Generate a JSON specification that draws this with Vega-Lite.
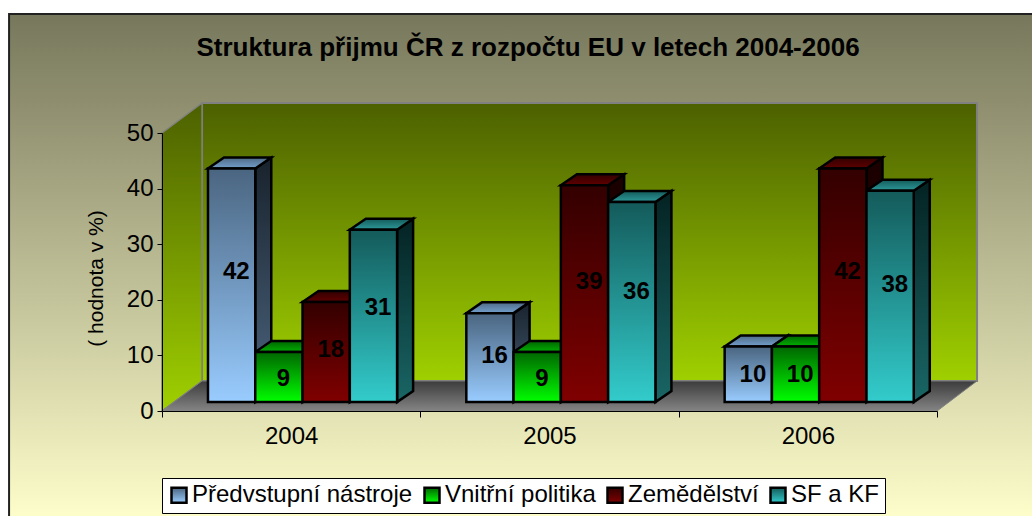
{
"$schema":"https://vega.github.io/schema/vega-lite/v6.json",
"width":1032,"height":516,"padding":0,"autosize":{"type":"none"},
"background":"white",
"title":{"text":"Struktura přijmu ČR z rozpočtu EU v letech 2004-2006","font":"Liberation Sans","fontSize":26,"fontWeight":"bold","color":"#000","anchor":"middle","dx":12,"offset":-82,"baseline":"alphabetic"},
"config":{"font":"Liberation Sans","view":{"stroke":null}},
"data":{"values":[
{"year":2004,"series":"Předvstupní nástroje","value":42},
{"year":2004,"series":"Vnitřní politika","value":9},
{"year":2004,"series":"Zemědělství","value":18},
{"year":2004,"series":"SF a KF","value":31},
{"year":2005,"series":"Předvstupní nástroje","value":16},
{"year":2005,"series":"Vnitřní politika","value":9},
{"year":2005,"series":"Zemědělství","value":39},
{"year":2005,"series":"SF a KF","value":36},
{"year":2006,"series":"Předvstupní nástroje","value":10},
{"year":2006,"series":"Vnitřní politika","value":10},
{"year":2006,"series":"Zemědělství","value":42},
{"year":2006,"series":"SF a KF","value":38}
]},
"transform":[
{"calculate":"datum.year-2004","as":"yi"},
{"calculate":"indexof(['Předvstupní nástroje','Vnitřní politika','Zemědělství','SF a KF'],datum.series)","as":"si"},
{"calculate":"datum.yi+0.178+datum.si*0.183","as":"xl"},
{"calculate":"datum.xl+0.183","as":"xr"},
{"calculate":"datum.value+1.6","as":"top"},
{"calculate":"1.6","as":"base"},
{"calculate":"datum.xl+0.0915+0.018","as":"xm"},
{"calculate":"0.58*datum.value+0.6","as":"ym"},
{"calculate":"datum.year+'-'+datum.series","as":"key"}
],
"resolve":{"scale":{"x":"independent"},"axis":{"x":"independent","y":"independent"}},
"layer":[
{
"resolve":{"scale":{"fill":"independent"},"axis":{"y":"independent"}},
"layer":[
{"data":{"values":[{}]},
 "mark":{"type":"rect","stroke":"#222","strokeWidth":2,"fill":{"gradient":"linear","x1":0,"y1":0,"x2":0,"y2":1,"stops":[{"offset":0,"color":"#77775c"},{"offset":1,"color":"#ffffcc"}]}},
 "encoding":{
  "x":{"datum":-0.592,"type":"quantitative","scale":{"domain":[0,3],"range":[162,937],"nice":false,"zero":false},"axis":null},
  "x2":{"datum":3.6},
  "y":{"datum":71.4,"type":"quantitative","scale":{"domain":[0,50],"range":[411,133],"nice":false,"zero":false},"axis":{"orient":"left","values":[0,10,20,30,40,50],"offset":-162,"zindex":1,"grid":false,"domainColor":"#000","tickColor":"#000","tickSize":5,"labelFontSize":24,"labelColor":"#000","labelPadding":4,"title":"( hodnota v %)","titleFontSize":21,"titleFontWeight":"normal","titleColor":"#000","titleX":-56,"titleY":278}},
  "y2":{"datum":-20}
 }},
{"data":{"values":[{}]},
 "mark":{"type":"rect","stroke":"#808080","strokeWidth":2,"fill":{"gradient":"linear","x1":0,"y1":0,"x2":0,"y2":1,"stops":[{"offset":0,"color":"#4c6000"},{"offset":1,"color":"#9fd000"}]}},
 "encoding":{"x":{"datum":0.155,"type":"quantitative","axis":null},"x2":{"datum":3.155},"y":{"datum":55.4,"type":"quantitative","axis":null},"y2":{"datum":5.4}}},
{"data":{"values":[{"depth":0},{"depth":1}]},
 "transform":[{"calculate":"datum.depth*0.155","as":"wx"},{"calculate":"datum.depth*5.4","as":"wy0"},{"calculate":"50+datum.depth*5.4","as":"wy1"}],
 "mark":{"type":"area","orient":"vertical","stroke":"#808080","strokeWidth":1.5,"fill":{"gradient":"linear","x1":0,"y1":0,"x2":0,"y2":1,"stops":[{"offset":0,"color":"#4c6000"},{"offset":1,"color":"#9fd000"}]}},
 "encoding":{"x":{"field":"wx","type":"quantitative","axis":null},"y":{"field":"wy1","type":"quantitative","axis":null,"stack":null},"y2":{"field":"wy0"}}},
{"data":{"values":[{"depth":0},{"depth":1}]},
 "transform":[{"calculate":"datum.depth*0.155","as":"fx0"},{"calculate":"3+datum.depth*0.155","as":"fx1"},{"calculate":"datum.depth*5.4","as":"fy"}],
 "mark":{"type":"area","orient":"horizontal","stroke":"#808080","strokeWidth":1,"fill":{"gradient":"linear","x1":0,"y1":0,"x2":0,"y2":1,"stops":[{"offset":0,"color":"#3c3c3c"},{"offset":1,"color":"#848484"}]}},
 "encoding":{"y":{"field":"fy","type":"quantitative","axis":null},"x":{"field":"fx0","type":"quantitative","axis":null,"stack":null},"x2":{"field":"fx1"}}},
{"transform":[{"calculate":"[0,1]","as":"d"},{"flatten":["d"]},{"calculate":"datum.xr+datum.d*0.062","as":"sx"},{"calculate":"datum.top+datum.d*1.98","as":"sy"},{"calculate":"datum.base+datum.d*1.98","as":"sy2"}],
 "mark":{"type":"area","orient":"vertical","stroke":"#000","strokeWidth":2.5,"strokeJoin":"miter"},
 "encoding":{"x":{"field":"sx","type":"quantitative","axis":null},"y":{"field":"sy","type":"quantitative","axis":null,"stack":null},"y2":{"field":"sy2"},"detail":{"field":"key"},
  "fill":{"field":"series","type":"nominal","legend":null,"scale":{"domain":["Předvstupní nástroje","Vnitřní politika","Zemědělství","SF a KF"],"range":[
   {"expr":"{gradient:'linear',x1:0,y1:0,x2:0,y2:1,stops:[{offset:0,color:'#18222c'},{offset:1,color:'#4d6680'}]}"},
   {"expr":"{gradient:'linear',x1:0,y1:0,x2:0,y2:1,stops:[{offset:0,color:'#003300'},{offset:1,color:'#008000'}]}"},
   {"expr":"{gradient:'linear',x1:0,y1:0,x2:0,y2:1,stops:[{offset:0,color:'#190000'},{offset:1,color:'#400000'}]}"},
   {"expr":"{gradient:'linear',x1:0,y1:0,x2:0,y2:1,stops:[{offset:0,color:'#042222'},{offset:1,color:'#1a6666'}]}"}]}}}},
{"transform":[{"calculate":"[0,1]","as":"d"},{"flatten":["d"]},{"calculate":"datum.xl+datum.d*0.062","as":"tx"},{"calculate":"datum.xr+datum.d*0.062","as":"tx2"},{"calculate":"datum.top+datum.d*1.98","as":"ty"}],
 "mark":{"type":"area","orient":"horizontal","stroke":"#000","strokeWidth":2.5,"strokeJoin":"miter"},
 "encoding":{"y":{"field":"ty","type":"quantitative","axis":null},"x":{"field":"tx","type":"quantitative","axis":null,"stack":null},"x2":{"field":"tx2"},"detail":{"field":"key"},
  "fill":{"field":"series","type":"nominal","legend":null,"scale":{"domain":["Předvstupní nástroje","Vnitřní politika","Zemědělství","SF a KF"],"range":[
   {"expr":"{gradient:'linear',x1:0,y1:0,x2:0,y2:1,stops:[{offset:0,color:'#4f6a86'},{offset:1,color:'#73a0cc'}]}"},
   {"expr":"{gradient:'linear',x1:0,y1:0,x2:0,y2:1,stops:[{offset:0,color:'#006600'},{offset:1,color:'#00b000'}]}"},
   {"expr":"{gradient:'linear',x1:0,y1:0,x2:0,y2:1,stops:[{offset:0,color:'#330000'},{offset:1,color:'#600000'}]}"},
   {"expr":"{gradient:'linear',x1:0,y1:0,x2:0,y2:1,stops:[{offset:0,color:'#145a5a'},{offset:1,color:'#2d9a9a'}]}"}]}}}},
{"mark":{"type":"rect","stroke":"#000","strokeWidth":2.5},
 "encoding":{"x":{"field":"xl","type":"quantitative","axis":null},"x2":{"field":"xr"},"y":{"field":"top","type":"quantitative","axis":null},"y2":{"field":"base"},
  "fill":{"field":"series","type":"nominal","scale":{"domain":["Předvstupní nástroje","Vnitřní politika","Zemědělství","SF a KF"],"range":[
   {"expr":"{gradient:'linear',x1:0,y1:0,x2:0,y2:1,stops:[{offset:0,color:'#4a6580'},{offset:1,color:'#99ccff'}]}"},
   {"expr":"{gradient:'linear',x1:0,y1:0,x2:0,y2:1,stops:[{offset:0,color:'#006600'},{offset:1,color:'#00ff00'}]}"},
   {"expr":"{gradient:'linear',x1:0,y1:0,x2:0,y2:1,stops:[{offset:0,color:'#330000'},{offset:1,color:'#800000'}]}"},
   {"expr":"{gradient:'linear',x1:0,y1:0,x2:0,y2:1,stops:[{offset:0,color:'#145a5a'},{offset:1,color:'#33cccc'}]}"}]},
   "legend":{"title":null,"orient":"none","legendX":162,"legendY":478,"direction":"horizontal","columns":4,"symbolType":"square","symbolSize":225,"symbolStrokeWidth":2.5,"symbolStrokeColor":"#000","labelFontSize":24,"labelColor":"#000","labelOffset":1,"columnPadding":6,"padding":5,"fillColor":"#fff","strokeColor":"#000","labelLimit":300,"zindex":2}}}},
{"mark":{"type":"text","font":"Liberation Sans","fontWeight":"bold","fontSize":24,"color":"#000","baseline":"middle","align":"center"},
 "encoding":{"x":{"field":"xm","type":"quantitative","axis":null},"y":{"field":"ym","type":"quantitative","axis":null},"text":{"field":"value","type":"quantitative"}}}
]
},
{"mark":{"type":"tick","opacity":0},
 "encoding":{"x":{"field":"year","type":"ordinal","scale":{"type":"band","paddingInner":0,"paddingOuter":0,"range":[162,937]},
   "axis":{"orient":"bottom","offset":-105,"zindex":1,"title":null,"labelAngle":0,"tickBand":"extent","tickColor":"#000","domainColor":"#000","tickSize":6,"labelFontSize":24,"labelColor":"#000","labelPadding":7}},
  "y":{"datum":0,"type":"quantitative","axis":null}}}
]
}
